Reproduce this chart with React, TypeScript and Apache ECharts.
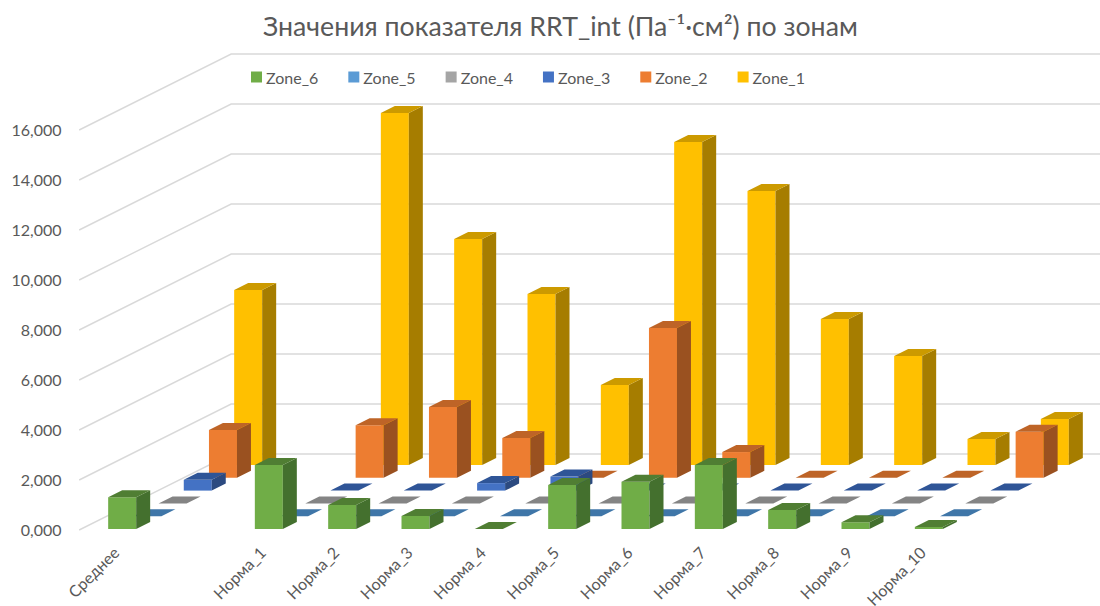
import React, { useEffect, useRef } from "react";
import * as echarts from "echarts";

const categories = ["Среднее", "", "Норма_1", "Норма_2", "Норма_3", "Норма_4", "Норма_5", "Норма_6", "Норма_7", "Норма_8", "Норма_9", "Норма_10"];
const yTicks = [0, 2, 4, 6, 8, 10, 12, 14, 16];

// Values per zone, in axis units; the second category is an empty spacer.
const zone1 = [7.0, null, 14.08, 9.04, 6.84, 3.2, 12.92, 10.96, 5.84, 4.36, 1.04, 1.84];
const zone2 = [1.91, null, 2.1, 2.83, 1.59, 0, 5.99, 1.03, 0, 0, 0, 1.84];
const zone3 = [0.43, null, 0, 0, 0.3, 0.56, 0, 0, 0, 0, 0, 0];
const zone4 = [0, null, 0, 0, 0, 0, 0, 0, 0, 0, 0, 0];
const zone5 = [0, null, 0, 0, 0, 0, 0, 0, 0, 0, 0, 0];
const zone6 = [1.27, null, 2.56, 0.96, 0.52, 0, 1.76, 1.89, 2.56, 0.76, 0.27, 0.08];

const FONT = "Lato, 'Open Sans', sans-serif";
const LABEL = "#595959";

// Oblique projection: row shift per zone, and the depth of a single bar.
const ROW_DX = 25.2;
const ROW_DY = -12.8;
const BAR_W = 28;
const BAR_DX = 14;
const BAR_DY = -7;

type Zone = { name: string; row: number; values: (number | null)[]; front: string; top: string; side: string };

// Drawn from the back row to the front so that nearer bars cover farther ones.
const zones: Zone[] = [
  { name: "Zone_1", row: 5, values: zone1, front: "#FFC000", top: "#CC9A00", side: "#A67D00" },
  { name: "Zone_2", row: 4, values: zone2, front: "#ED7D31", top: "#BE6427", side: "#9A5120" },
  { name: "Zone_3", row: 3, values: zone3, front: "#4472C4", top: "#2F5597", side: "#2C4A80" },
  { name: "Zone_4", row: 2, values: zone4, front: "#A5A5A5", top: "#848484", side: "#6B6B6B" },
  { name: "Zone_5", row: 1, values: zone5, front: "#5B9BD5", top: "#3F76A8", side: "#3B658A" },
  { name: "Zone_6", row: 0, values: zone6, front: "#70AD47", top: "#507E33", side: "#44702E" },
];

const legendOrder = ["Zone_6", "Zone_5", "Zone_4", "Zone_3", "Zone_2", "Zone_1"];

function polygon(points: number[][], fill: string) {
  return { type: "polygon", shape: { points }, style: { fill }, silent: true };
}

function barSeries(zone: Zone) {
  return {
    type: "custom",
    name: zone.name,
    silent: true,
    itemStyle: { color: zone.front },
    encode: { x: 0, y: 1 },
    data: zone.values.map((v, i) => [i, v]).filter((d) => d[1] !== null),
    renderItem: (_params: any, api: any) => {
      const cat = api.value(0);
      const val = api.value(1);
      const base = api.coord([cat, 0]);
      const head = api.coord([cat, val]);
      const x0 = base[0] - BAR_W / 2 + zone.row * ROW_DX;
      const x1 = x0 + BAR_W;
      const yB = base[1] + zone.row * ROW_DY;
      const yT = head[1] + zone.row * ROW_DY;
      const children: any[] = [];
      if (val > 0) {
        children.push(polygon([[x0, yB], [x1, yB], [x1, yT], [x0, yT]], zone.front));
        children.push(polygon([[x1, yB], [x1 + BAR_DX, yB + BAR_DY], [x1 + BAR_DX, yT + BAR_DY], [x1, yT]], zone.side));
      }
      children.push(polygon([[x0, yT], [x1, yT], [x1 + BAR_DX, yT + BAR_DY], [x0 + BAR_DX, yT + BAR_DY]], zone.top));
      return { type: "group", children };
    },
  };
}

// Side wall and back wall rules, one per value tick.
const wallSeries = {
  type: "custom",
  name: "walls",
  silent: true,
  encode: { x: 0, y: 1 },
  data: yTicks.map((v) => [0, v]),
  renderItem: (_params: any, api: any) => {
    const p = api.coord([api.value(0), api.value(1)]);
    const xStart = p[0] - 43;
    const yStart = p[1] + 1;
    const xCorner = xStart + 152;
    const yCorner = yStart - 76;
    return {
      type: "polyline",
      shape: { points: [[xStart, yStart], [xCorner, yCorner], [1100, yCorner]] },
      style: { stroke: "#D9D9D9", lineWidth: 1.4, fill: "none" },
      silent: true,
    };
  },
};

export default function App() {
  const ref = useRef<HTMLDivElement>(null);

  useEffect(() => {
    const chart = echarts.init(ref.current!, undefined, { renderer: "svg" });
    chart.setOption({
      animation: false,
      backgroundColor: "#FFFFFF",
      title: {
        text: "Значения показателя RRT_int (Па⁻¹·см²) по зонам",
        left: 258,
        top: 7,
        textStyle: { fontFamily: FONT, fontSize: 26.7, fontWeight: "normal", color: LABEL },
      },
      legend: {
        data: legendOrder.map((name) => ({ name, icon: "rect" })),
        left: 246,
        top: 64,
        itemWidth: 11,
        itemHeight: 11,
        itemGap: 30,
        textStyle: { fontFamily: FONT, fontSize: 16, color: LABEL, padding: [0, 0, 0, -1] },
      },
      grid: { left: 85.5, top: 129, width: 880, height: 400, outerBoundsMode: "none" },
      xAxis: {
        type: "category",
        data: categories,
        axisLine: { show: false },
        axisTick: { show: false },
        axisLabel: { interval: 0, rotate: 45, margin: 14, padding: [0, 9, 0, 0], fontFamily: FONT, fontSize: 16, color: LABEL },
      },
      yAxis: {
        type: "value",
        min: 0,
        max: 16,
        interval: 2,
        axisLine: { show: false },
        axisTick: { show: false },
        splitLine: { show: false },
        axisLabel: {
          margin: 24,
          padding: [4, 0, 0, 0],
          fontFamily: FONT,
          fontSize: 16,
          color: LABEL,
          formatter: (v: number) => v.toFixed(3).replace(".", ","),
        },
      },
      series: [wallSeries, ...zones.map(barSeries)],
    });
    return () => chart.dispose();
  }, []);

  return <div ref={ref} style={{ width: 1100, height: 606, position: "absolute", left: 0, top: 0 }} />;
}
